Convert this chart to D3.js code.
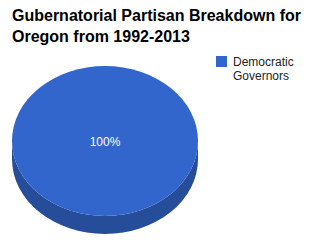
<!DOCTYPE html>
<html><head><meta charset="utf-8">
<script src="https://cdn.jsdelivr.net/npm/d3@7"></script>
<style>body{margin:0;background:#fff}svg{display:block}</style>
</head><body>
<script>
const titleLines = ["Gubernatorial Partisan Breakdown for", "Oregon from 1992-2013"];
const categories = ["Democratic Governors"];
const values = [100];
const colors = ["#3366cc"];
const sideColors = ["#264d99"];

const W = 318, H = 244;
const svg = d3.select("body").append("svg").attr("width", W).attr("height", H);

svg.append("g").selectAll("text").data(titleLines).join("text")
  .attr("x", 12).attr("y", (d, i) => 21 + i * 21)
  .attr("font-family", "Arial, Liberation Sans, sans-serif")
  .attr("font-weight", "bold").attr("font-size", 16).attr("fill", "#000")
  .text(d => d);

const cx = 105, cy = 141, rx = 93, ry = 75, depth = 18;
const pie = d3.pie().sort(null)(values);
const total = d3.sum(values);

// side (depth) for full pie
const g = svg.append("g");
pie.forEach((p, i) => {
  // side: bottom half ellipse band
  const path = `M${cx - rx},${cy} A${rx},${ry} 0 0 0 ${cx + rx},${cy} L${cx + rx},${cy + depth} A${rx},${ry} 0 0 1 ${cx - rx},${cy + depth} Z`;
  g.append("path").attr("d", path).attr("fill", sideColors[i]);
  const ell = d3.arc().innerRadius(0).outerRadius(1).startAngle(p.startAngle).endAngle(p.endAngle);
  g.append("path").attr("d", ell()).attr("transform", `translate(${cx},${cy}) scale(${rx},${ry})`)
    .attr("fill", colors[i]);
  const a = (p.startAngle + p.endAngle) / 2;
  const lab = p.endAngle - p.startAngle >= 2 * Math.PI - 1e-6 ? [0, 0] : [Math.sin(a) * rx * 0.6, -Math.cos(a) * ry * 0.6];
  g.append("text").attr("x", cx + lab[0]).attr("y", cy + lab[1] + 5)
    .attr("text-anchor", "middle").attr("font-family", "Arial, Liberation Sans, sans-serif")
    .attr("font-size", 12).attr("fill", "#fff")
    .text(d3.format(".0%")(p.value / total));
});

const leg = svg.append("g").selectAll("g").data(categories).join("g")
  .attr("transform", (d, i) => `translate(216,${56 + i * 30})`);
leg.append("rect").attr("width", 11).attr("height", 11).attr("fill", (d, i) => colors[i]);
leg.append("text").attr("x", 17).attr("y", 10)
  .attr("font-family", "Arial, Liberation Sans, sans-serif").attr("font-size", 12).attr("fill", "#222")
  .selectAll("tspan").data(d => d.split(" ")).join("tspan")
  .attr("x", 17).attr("dy", (d, i) => i ? 14 : 0).text(d => d);
</script>
</body></html>
